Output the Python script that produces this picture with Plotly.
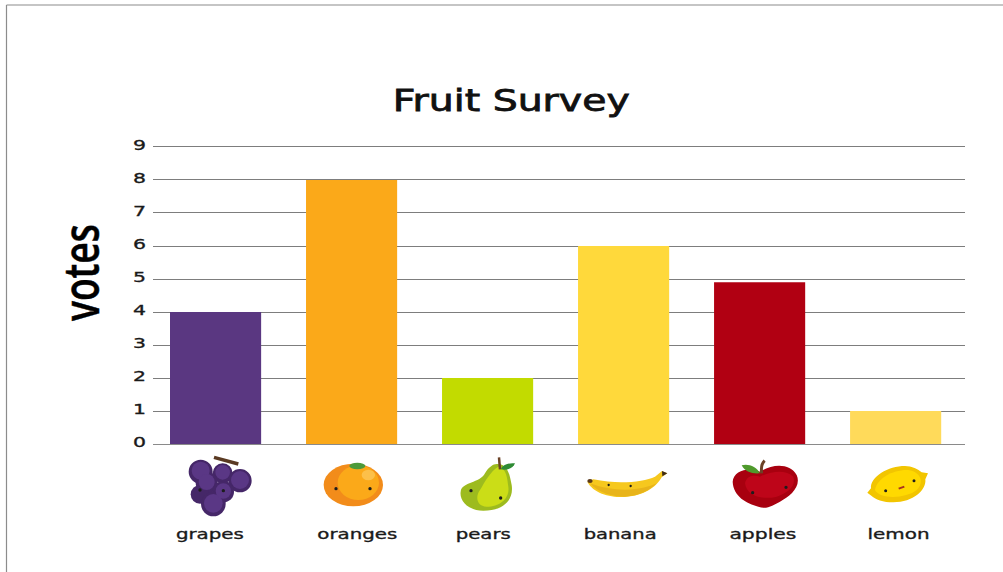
import plotly.graph_objects as go

categories = ["grapes", "oranges", "pears", "banana", "apples", "lemon"]
votes = [4, 8, 2, 6, 4.9, 1]
colors = ["#5A3781", "#FBA919", "#C2DB00", "#FFD93B", "#B10012", "#FFDA5A"]
tick_values = list(range(10))
label_px = [210, 357, 483, 620, 763, 898]
label_widths = [68, 80, 55, 73, 67, 62]

W, H = 1003, 572
L, R, T, B = 153, 965, 143, 444


def fx(p):
    return (p - L) / (R - L)


def fy(p):
    return (B - p) / (B - T)


shapes = []


def circle(ox, oy, cx, cy, rx, ry, color):
    x = ox + cx / 3
    y = oy + cy / 3
    shapes.append(dict(type="circle", xref="paper", yref="paper", x0=fx(x - rx / 3), x1=fx(x + rx / 3),
                       y0=fy(y + ry / 3), y1=fy(y - ry / 3), fillcolor=color, line_width=0, layer="above"))


def path(ox, oy, cmds, fill=None, line=None, width=0):
    out = []
    for c in cmds:
        if isinstance(c, str):
            out.append(c)
        else:
            out.append(f"{fx(ox + c[0] / 3):.5f},{fy(oy + c[1] / 3):.5f}")
    shapes.append(dict(type="path", xref="paper", yref="paper", path=" ".join(out),
                       fillcolor=fill if fill else "rgba(0,0,0,0)",
                       line=dict(color=line if line else "rgba(0,0,0,0)", width=width), layer="above"))


def face(ox, oy, pts, color="#1d1d1d", r=5):
    for p in pts:
        circle(ox, oy, p[0], p[1], r, r, color)


# grapes
a, b = 150, 440
path(a, b, ["M", (192, 52), "L", (265, 72)], line="#5A3A22", width=3.5)
for c in [(152, 95, 36), (218, 100, 30), (270, 122, 35), (170, 128, 33), (150, 163, 28), (220, 155, 32), (190, 192, 37)]:
    circle(a, b, c[0], c[1], c[2], c[2], "#452768")
for c in [(152, 92, 27), (218, 97, 22), (270, 120, 27), (170, 126, 24), (190, 190, 28), (220, 153, 23)]:
    circle(a, b, c[0], c[1], c[2], c[2], "#5A3785")
face(a, b, [(150, 150), (220, 152)])

# orange
circle(a, b, 610, 135, 89, 64, "#F28C1A")
circle(a, b, 625, 128, 62, 52, "#FBA919")
circle(a, b, 655, 105, 20, 16, "#FCC04A")
circle(a, b, 622, 78, 24, 10, "#4C9A3A")
face(a, b, [(558, 146), (660, 146)])

# pear
path(a, b, ["M", (1040, 72), "C", (1075, 70), (1080, 110), (1085, 135), "C", (1092, 180), (1060, 212), (1000, 212),
            "C", (950, 212), (928, 180), (932, 155), "C", (936, 125), (990, 130), (1005, 100),
            "C", (1015, 82), (1030, 72), (1040, 72), "Z"], fill="#9DBB1E")
path(a, b, ["M", (1045, 80), "C", (1070, 85), (1072, 115), (1075, 140), "C", (1080, 175), (1050, 200), (1010, 200),
            "C", (980, 200), (975, 170), (990, 150), "C", (1005, 125), (1020, 95), (1045, 80), "Z"], fill="#CBDD17")
path(a, b, ["M", (1047, 52), "L", (1050, 88)], line="#6B4226", width=2.5)
path(a, b, ["M", (1052, 88), "C", (1060, 72), (1080, 68), (1095, 70), "C", (1090, 85), (1070, 92), (1052, 88), "Z"], fill="#2E8B34")
face(a, b, [(963, 152), (1052, 174)])

# banana
a, b = 560, 440
path(a, b, ["M", (82, 125), "C", (100, 160), (150, 172), (190, 171), "C", (250, 170), (290, 140), (305, 112),
            "L", (322, 100), "L", (306, 93), "L", (285, 110), "C", (250, 125), (180, 135), (100, 118), "Z"], fill="#F6C81E")
path(a, b, ["M", (90, 130), "C", (115, 160), (160, 170), (195, 170), "C", (240, 168), (270, 150), (290, 130),
            "C", (250, 150), (170, 160), (90, 130), "Z"], fill="#E8B41A")
path(a, b, ["M", (306, 93), "L", (322, 100), "L", (307, 109), "Z"], fill="#3B2A1A")
circle(a, b, 90, 123, 8, 6, "#5A3A1A")
face(a, b, [(146, 135), (212, 138)], r=3.5)

# apple
path(a, b, ["M", (600, 95), "C", (640, 70), (690, 70), (710, 105), "C", (725, 140), (690, 170), (660, 185),
            "C", (640, 195), (620, 210), (595, 200), "C", (560, 190), (520, 170), (518, 125),
            "C", (520, 90), (570, 80), (600, 95), "Z"], fill="#A8000F")
path(a, b, ["M", (600, 110), "C", (640, 90), (680, 90), (700, 110), "C", (710, 140), (680, 160), (650, 170),
            "C", (610, 180), (560, 170), (555, 130), "C", (560, 105), (585, 105), (600, 110), "Z"], fill="#BE0519")
path(a, b, ["M", (605, 100), "C", (603, 85), (605, 70), (614, 62)], line="#6B4226", width=3)
path(a, b, ["M", (545, 76), "C", (565, 70), (590, 80), (600, 100), "C", (575, 102), (555, 95), (545, 76), "Z"], fill="#4F9A2C")
face(a, b, [(578, 158), (678, 142)])

# lemon
path(a, b, ["M", (922, 158), "L", (933, 145), "C", (930, 110), (985, 78), (1035, 78), "C", (1055, 78), (1075, 88), (1085, 97),
            "L", (1104, 100), "L", (1096, 118), "C", (1100, 150), (1060, 187), (1000, 187),
            "C", (970, 187), (945, 178), (934, 167), "Z"], fill="#F2C500")
path(a, b, ["M", (945, 150), "C", (950, 115), (1000, 88), (1045, 90), "C", (1080, 95), (1095, 125), (1070, 150),
            "C", (1040, 175), (960, 180), (945, 150), "Z"], fill="#FFD900")
face(a, b, [(977, 152), (1062, 122)], r=4.5)
path(a, b, ["M", (1016, 146), "L", (1033, 140)], line="#A8321E", width=2)

# page border
shapes.append(dict(type="line", xref="paper", yref="paper", x0=fx(6.5), x1=fx(6.5), y0=fy(H), y1=fy(5), line=dict(color="#8c8c8c", width=1.2)))
shapes.append(dict(type="line", xref="paper", yref="paper", x0=fx(6.5), x1=fx(W), y0=fy(5), y1=fy(5), line=dict(color="#8c8c8c", width=1.2)))

annotations = [dict(text=c, x=fx(p), y=fy(534), xref="paper", yref="paper", xanchor="center", yanchor="middle",
                    showarrow=False, font=dict(family="DejaVu Sans", size=14.5, color="#1a1a1a"))
               for c, p in zip(categories, label_px)]
annotations.append(dict(text="Fruit Survey", x=fx(511), y=fy(100), xref="paper", yref="paper", xanchor="center",
                        yanchor="middle", showarrow=False, font=dict(family="DejaVu Sans", size=30, color="#111111")))
annotations.append(dict(text="votes", x=fx(80), y=fy(273), xref="paper", yref="paper", xanchor="center", yanchor="middle",
                        textangle=-90, showarrow=False, font=dict(family="Open Sans", size=48, weight=600, color="#000000")))

fig = go.Figure(go.Bar(x=categories, y=votes, marker=dict(color=colors, line_width=0), width=0.67))
fig.update_layout(
    width=W, height=H, margin=dict(l=L, r=W - R, t=T, b=H - B), paper_bgcolor="white", plot_bgcolor="white",
    showlegend=False, shapes=shapes, annotations=annotations,
    xaxis=dict(range=[-0.46, 5.51], showticklabels=False, ticks="", showgrid=False, showline=True,
               linecolor="#8a8a8a", linewidth=1, fixedrange=True),
    yaxis=dict(range=[0, 9.121], tickmode="array", tickvals=tick_values, ticktext=[str(v) for v in tick_values],
               showgrid=True, gridcolor="#7d7d7d", gridwidth=1, zeroline=False, ticks="", ticklen=0,
               ticklabelstandoff=6,
               tickfont=dict(family="DejaVu Sans", size=14.5, color="#1a1a1a"), fixedrange=True),
)

widths = dict(zip(categories, label_widths))
widths["Fruit Survey"] = 237
widths["votes"] = 97
strokes = {"Fruit Survey": 0.8, "votes": 0.5}
js_widths = ",".join(f'"{k}":{v}' for k, v in widths.items())
js_strokes = ",".join(f'"{k}":{v}' for k, v in strokes.items())
post = """
document.body.style.margin = '0';
var w = {%s};
var s = {%s};
function paint(t, width) {
  t.style.stroke = 'currentColor';
  t.style.stroke = window.getComputedStyle(t).fill;
  t.style.strokeWidth = width + 'px';
}
document.querySelectorAll('.annotation-text').forEach(function (t) {
  var n = w[t.textContent];
  if (n) { t.setAttribute('textLength', n); t.setAttribute('lengthAdjust', 'spacingAndGlyphs'); }
  paint(t, s[t.textContent] || 0.35);
});
document.querySelectorAll('.ytick text').forEach(function (t) {
  t.setAttribute('textLength', 13); t.setAttribute('lengthAdjust', 'spacingAndGlyphs'); t.setAttribute('dy', '-2');
  paint(t, 0.35);
});
""" % (js_widths, js_strokes)
fig.write_html("out.html", config=dict(displayModeBar=False), post_script=post)
